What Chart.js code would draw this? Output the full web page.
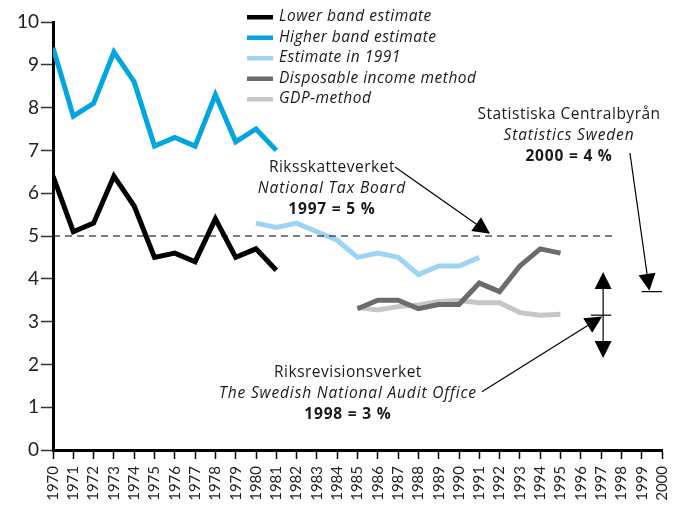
<!DOCTYPE html>
<html>
<head>
<meta charset="utf-8">
<script src="https://cdn.jsdelivr.net/npm/chart.js@4/dist/chart.umd.min.js"></script>
<style>
  html, body { margin: 0; padding: 0; background: #fff; }
  #wrap { width: 679px; height: 505px; }
</style>
</head>
<body>
<div id="wrap"><canvas id="myChart" width="679" height="505"></canvas></div>
<script>
// years on the x axis
const years = [];
for (let y = 1970; y <= 2000; y++) years.push(y);

const bandYears = [1970, 1971, 1972, 1973, 1974, 1975, 1976, 1977, 1978, 1979, 1980, 1981];
const lowerBand = [6.4, 5.1, 5.3, 6.4, 5.7, 4.5, 4.6, 4.4, 5.4, 4.5, 4.7, 4.2];
const higherBand = [9.4, 7.8, 8.1, 9.3, 8.6, 7.1, 7.3, 7.1, 8.3, 7.2, 7.5, 7.0];

const est91Years = [1980, 1981, 1982, 1983, 1984, 1985, 1986, 1987, 1988, 1989, 1990, 1991];
const estimate1991 = [5.3, 5.2, 5.3, 5.1, 4.9, 4.5, 4.6, 4.5, 4.1, 4.3, 4.3, 4.5];

const methodYears = [1985, 1986, 1987, 1988, 1989, 1990, 1991, 1992, 1993, 1994, 1995];
const disposableIncome = [3.3, 3.5, 3.5, 3.3, 3.4, 3.4, 3.9, 3.7, 4.3, 4.7, 4.6];
const gdpMethod = [3.33, 3.27, 3.35, 3.39, 3.47, 3.49, 3.44, 3.44, 3.21, 3.15, 3.17];

const refLineYears = [1970, 1997.6];
const refLineValues = [5, 5];

const yTicks = [0, 1, 2, 3, 4, 5, 6, 7, 8, 9, 10];

const seriesNames = ["Lower band estimate", "Higher band estimate", "Estimate in 1991", "Disposable income method", "GDP-method"];
const seriesColors = ["#000000", "#00a5e2", "#9dd4f4", "#6b6b6b", "#c6c6c6"];

// annotation texts, anchored in data units [year, value]
const notes = [
  { at: [1983.74, 6.61], lines: [["Riksskatteverket", ""], ["National Tax Board", "italic"], ["1997 = 5 %", "bold"]] },
  { at: [1995.42, 7.83], lines: [["Statistiska Centralbyrån", ""], ["Statistics Sweden", "italic"], ["2000 = 4 %", "bold"]] },
  { at: [1984.53, 1.80], lines: [["Riksrevisionsverket", ""], ["The Swedish National Audit Office", "italic"], ["1998 = 3 %", "bold"]] }
];

// arrows: from -> to, in data units
const arrows = [
  { from: [1986.85, 6.61], to: [1991.53, 5.05] },
  { from: [1998.42, 6.94], to: [1999.38, 3.72] },
  { from: [1991.13, 1.36], to: [1997.05, 3.12] },
  { from: [1997.1, 3.15], to: [1997.1, 4.16] },
  { from: [1997.1, 3.15], to: [1997.1, 2.15] }
];
// small horizontal bars marking the estimate levels
const bars = [
  { x1: 1999.0, x2: 2000.0, y: 3.7 },
  { x1: 1996.5, x2: 1997.5, y: 3.15 }
];

const FONT = "'Open Sans', sans-serif";
const spacing = { "": "0.5px", italic: "0.85px", bold: "0.8px" };

function pts(xs, ys) {
  return xs.map((x, i) => ({ x: x, y: ys[i] }));
}

function lineSet(label, xs, ys, color) {
  return {
    label: label,
    data: pts(xs, ys),
    borderColor: color,
    backgroundColor: color,
    borderWidth: 5,
    borderJoinStyle: "miter",
    borderCapStyle: "butt",
    pointRadius: 0,
    tension: 0,
    fill: false
  };
}

const extras = {
  id: "extras",
  afterDatasetsDraw(chart) {
    const ctx = chart.ctx;
    const xs = chart.scales.x, ys = chart.scales.y;
    const px = v => xs.getPixelForValue(v);
    const py = v => ys.getPixelForValue(v);
    ctx.save();

    // arrows
    ctx.strokeStyle = "#000";
    ctx.fillStyle = "#000";
    ctx.lineWidth = 1.2;
    arrows.forEach(a => {
      const x1 = px(a.from[0]), y1 = py(a.from[1]);
      const x2 = px(a.to[0]), y2 = py(a.to[1]);
      const ang = Math.atan2(y2 - y1, x2 - x1);
      const len = 17, half = 8.5;
      const bx = x2 - Math.cos(ang) * len, by = y2 - Math.sin(ang) * len;
      ctx.beginPath();
      ctx.moveTo(x1, y1);
      ctx.lineTo(bx, by);
      ctx.stroke();
      ctx.beginPath();
      ctx.moveTo(x2, y2);
      ctx.lineTo(bx + Math.sin(ang) * half, by - Math.cos(ang) * half);
      ctx.lineTo(bx - Math.sin(ang) * half, by + Math.cos(ang) * half);
      ctx.closePath();
      ctx.fill();
    });
    bars.forEach(b => {
      ctx.beginPath();
      ctx.moveTo(px(b.x1), py(b.y));
      ctx.lineTo(px(b.x2), py(b.y));
      ctx.stroke();
    });

    // annotation texts
    ctx.fillStyle = "#1a1a1a";
    ctx.textAlign = "center";
    ctx.textBaseline = "middle";
    notes.forEach(n => {
      const cx = px(n.at[0]);
      let cy = py(n.at[1]);
      n.lines.forEach(l => {
        ctx.font = (l[1] ? l[1] + " " : "") + "15.5px " + FONT;
        ctx.letterSpacing = spacing[l[1]];
        ctx.fillText(l[0], cx, cy);
        cy += 21;
      });
    });

    // legend
    ctx.textAlign = "left";
    ctx.font = "italic 15.5px " + FONT;
    ctx.letterSpacing = "0.5px";
    seriesNames.forEach((name, i) => {
      const y = 17 + i * 20.5;
      ctx.fillStyle = seriesColors[i];
      ctx.fillRect(247, y - 2, 26, 4.5);
      ctx.fillStyle = "#1a1a1a";
      ctx.fillText(name, 279, y);
    });
    ctx.restore();
  }
};

const ctx = document.getElementById("myChart").getContext("2d");
const chart = new Chart(ctx, {
  type: "line",
  data: {
    datasets: [
      {
        label: "ref",
        data: pts(refLineYears, refLineValues),
        borderColor: "#000",
        borderWidth: 1.2,
        borderDash: [7, 5],
        pointRadius: 0,
        fill: false
      },
      lineSet(seriesNames[1], bandYears, higherBand, seriesColors[1]),
      lineSet(seriesNames[0], bandYears, lowerBand, seriesColors[0]),
      lineSet(seriesNames[2], est91Years, estimate1991, seriesColors[2]),
      lineSet(seriesNames[3], methodYears, disposableIncome, seriesColors[3]),
      lineSet(seriesNames[4], methodYears, gdpMethod, seriesColors[4])
    ]
  },
  options: {
    responsive: false,
    animation: false,
    layout: { padding: { top: 22, right: 17, left: 0, bottom: 0 } },
    plugins: {
      legend: { display: false },
      tooltip: { enabled: false }
    },
    scales: {
      x: {
        type: "linear",
        min: 1970,
        max: 2000,
        afterBuildTicks: scale => { scale.ticks = years.map(v => ({ value: v })); },
        afterFit: scale => {
          scale.height = 55;
          scale.paddingLeft = 0;
          scale.paddingRight = 0;
        },
        ticks: {
          minRotation: 90,
          maxRotation: 90,
          autoSkip: false,
          color: "#222",
          padding: 7,
          font: { family: "Lato, sans-serif", size: 15 },
          callback: v => String(v)
        },
        grid: { drawOnChartArea: false, tickLength: 9, tickWidth: 1.5, tickColor: "#000" },
        border: { color: "#000", width: 3 }
      },
      y: {
        min: 0,
        max: 10,
        afterBuildTicks: scale => { scale.ticks = yTicks.map(v => ({ value: v })); },
        afterFit: scale => {
          scale.width = 53;
          scale.paddingTop = 0;
          scale.paddingBottom = 0;
        },
        ticks: {
          color: "#222",
          padding: 2,
          font: { family: "Lato, sans-serif", size: 19 }
        },
        grid: { drawOnChartArea: false, tickLength: 12, tickWidth: 1.5, tickColor: "#333" },
        border: { color: "#000", width: 3 }
      }
    }
  },
  plugins: [extras]
});
</script>
</body>
</html>
